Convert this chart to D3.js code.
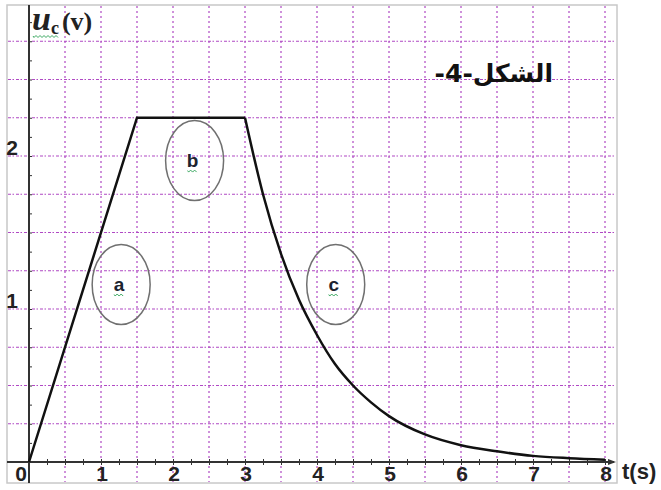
<!DOCTYPE html>
<html>
<head>
<meta charset="utf-8">
<script src="https://cdn.jsdelivr.net/npm/d3@7"></script>
<style>
  body { margin: 0; background: #fff; }
  svg { display: block; }
</style>
</head>
<body>
<div id="chart"></div>
<script>
// data
var tValues  = [0, 1.5, 3, 3.25, 3.5, 3.75, 4, 4.25, 4.5, 4.75, 5, 5.5, 6, 6.5, 7, 7.5, 8]
var ucValues = [0, 2.25, 2.25, 1.75, 1.36, 1.06, 0.83, 0.64, 0.50, 0.39, 0.30, 0.18, 0.11, 0.07, 0.04, 0.025, 0.015]
var xTickLabels = [0, 1, 2, 3, 4, 5, 6, 7, 8]
var yTickLabels = [1, 2]
var zoneNames = ["a", "b", "c"]
var zoneT = [1.28, 2.30, 4.26]
var zoneU = [1.16, 1.97, 1.16]

var width = 661, height = 490

var svg = d3.select("#chart").append("svg")
  .attr("width", width)
  .attr("height", height)

var x = d3.scaleLinear().domain([0, 8]).range([29, 605])
var y = d3.scaleLinear().domain([0, 2]).range([462, 156])

// frame
svg.append("rect")
  .attr("x", 7).attr("y", 5)
  .attr("width", 610).attr("height", 478)
  .attr("fill", "none")
  .attr("stroke", "#c8c8c8")
  .attr("stroke-width", 1.5)

// dotted grid
var grid = svg.append("g")
grid.selectAll(".vg")
  .data(d3.range(1, 17).map(function(i){ return i * 0.5 }))
  .enter().append("line")
    .attr("x1", function(d){ return x(d) }).attr("x2", function(d){ return x(d) })
    .attr("y1", 6).attr("y2", 482)
    .attr("stroke", "#b048c4")
    .attr("stroke-width", 1.2)
    .attr("stroke-dasharray", "2,3")
grid.selectAll(".hg")
  .data(d3.range(1, 12).map(function(i){ return i * 0.25 }))
  .enter().append("line")
    .attr("x1", 8).attr("x2", 616)
    .attr("y1", function(d){ return y(d) }).attr("y2", function(d){ return y(d) })
    .attr("stroke", "#b048c4")
    .attr("stroke-width", 1.2)
    .attr("stroke-dasharray", "3,1.5,1.5,2")

// axes
var xAxis = svg.append("g")
  .attr("transform", "translate(0," + y(0) + ")")
  .call(d3.axisBottom(x).tickValues(d3.range(0, 33).map(function(i){ return i * 0.25 }))
    .tickSize(3).tickFormat(""))
xAxis.select(".domain").remove()
xAxis.selectAll(".tick line").attr("stroke", "#333").attr("y1", -3)
svg.append("line")
  .attr("x1", 7).attr("x2", 614)
  .attr("y1", y(0)).attr("y2", y(0))
  .attr("stroke", "#333").attr("stroke-width", 2)
svg.append("path")
  .attr("d", "M608," + (y(0) - 3) + "L616," + y(0) + "L608," + (y(0) + 3) + "Z")
  .attr("fill", "#333")

var yAxis = svg.append("g")
  .attr("transform", "translate(" + x(0) + ",0)")
  .call(d3.axisLeft(y).tickValues(d3.range(0, 24).map(function(i){ return i * 0.125 }))
    .tickSize(3).tickFormat(""))
yAxis.select(".domain").remove()
yAxis.selectAll(".tick line").attr("stroke", "#333").attr("x2", 3)
svg.append("line")
  .attr("x1", x(0)).attr("x2", x(0))
  .attr("y1", 5).attr("y2", 483)
  .attr("stroke", "#333").attr("stroke-width", 2)

// tick labels
svg.selectAll(".xl")
  .data(xTickLabels)
  .enter().append("text")
    .attr("x", function(d){ return d == 0 ? x(d) - 8 : x(d) + 1 })
    .attr("y", 481)
    .attr("text-anchor", "middle")
    .style("font-family", "Liberation Sans, Arial, sans-serif")
    .style("font-weight", "bold")
    .style("font-size", "21px")
    .attr("fill", "#222")
    .text(function(d){ return d })
svg.selectAll(".yl")
  .data(yTickLabels)
  .enter().append("text")
    .attr("x", 12)
    .attr("y", function(d){ return y(d) - 1 })
    .attr("text-anchor", "middle")
    .style("font-family", "Liberation Sans, Arial, sans-serif")
    .style("font-weight", "bold")
    .style("font-size", "21px")
    .attr("fill", "#222")
    .text(function(d){ return d })

svg.append("text")
  .attr("x", 622).attr("y", 479)
  .style("font-family", "Liberation Sans, Arial, sans-serif")
  .style("font-weight", "bold")
  .style("font-size", "22px")
  .attr("fill", "#222")
  .text("t(s)")

// title u_c (v)
var title = svg.append("text")
  .attr("x", 32).attr("y", 30)
  .style("font-family", "Liberation Serif, Times New Roman, serif")
  .style("font-weight", "bold")
  .attr("fill", "#222")
title.append("tspan").style("font-style", "italic").style("font-size", "34px").text("u")
title.append("tspan").style("font-size", "18px").attr("dy", 4).text("c")
title.append("tspan").style("font-size", "26px").attr("dy", -4).attr("dx", 3).text("(v)")
svg.append("path")
  .attr("d", wavy(33, 36, 26))
  .attr("fill", "none").attr("stroke", "#3aa860").attr("stroke-width", 1)

// figure caption
svg.append("text")
  .attr("x", 553).attr("y", 82)
  .attr("text-anchor", "start")
  .attr("direction", "rtl")
  .style("font-family", "DejaVu Sans, sans-serif")
  .style("font-weight", "bold")
  .style("font-size", "25px")
  .attr("fill", "#111")
  .text("الشكل-4-")

// curve: ramp + plateau, then discharge
var pts = tValues.map(function(t, i){ return [t, ucValues[i]] })
var line = d3.line()
  .x(function(d){ return x(d[0]) })
  .y(function(d){ return y(d[1]) })
svg.append("path")
  .datum(pts.slice(0, 3))
  .attr("d", line)
  .attr("fill", "none").attr("stroke", "#111").attr("stroke-width", 2.5)
svg.append("path")
  .datum(pts.slice(2))
  .attr("d", line.curve(d3.curveMonotoneX))
  .attr("fill", "none").attr("stroke", "#111").attr("stroke-width", 2.5)

// zones a b c
var zones = svg.selectAll(".zone")
  .data(zoneNames)
  .enter().append("g")
zones.append("ellipse")
  .attr("cx", function(d, i){ return x(zoneT[i]) })
  .attr("cy", function(d, i){ return y(zoneU[i]) })
  .attr("rx", 29).attr("ry", 40)
  .attr("fill", "none")
  .attr("stroke", "#707070")
  .attr("stroke-width", 1.5)
zones.append("text")
  .attr("x", function(d, i){ return x(zoneT[i]) - 2 })
  .attr("y", function(d, i){ return y(zoneU[i]) + 6 })
  .attr("text-anchor", "middle")
  .style("font-family", "Liberation Sans, Arial, sans-serif")
  .style("font-weight", "bold")
  .style("font-size", "19px")
  .attr("fill", "#1c2430")
  .text(function(d){ return d })
zones.append("path")
  .attr("d", function(d, i){ return wavy(x(zoneT[i]) - 7, y(zoneU[i]) + 10, 10) })
  .attr("fill", "none").attr("stroke", "#3aa860").attr("stroke-width", 1)

function wavy(x0, y0, w){
  var p = "M" + x0 + "," + y0
  for (var k = 0; k < w; k += 2){
    p += "L" + (x0 + k + 1) + "," + (y0 + ((k / 2) % 2 == 0 ? 1.5 : -0.5))
  }
  return p
}
</script>
</body>
</html>
